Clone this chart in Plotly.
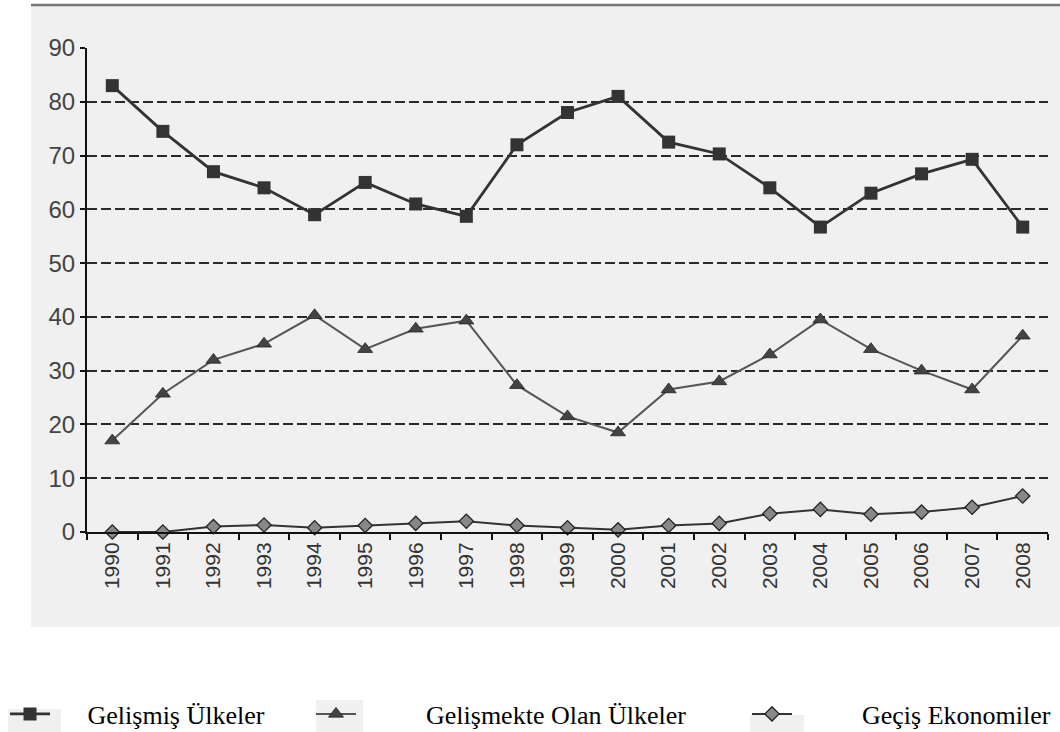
"""
Line chart: Gelişmiş / Gelişmekte Olan / Geçiş Ekonomileri, 1990-2008.
"""

import plotly.graph_objects as go

# Data
years = [str(y) for y in range(1990, 2009)]
gelismis = [83, 74.5, 67, 64, 59, 65, 61, 58.7, 72, 78, 81, 72.5, 70.3, 64, 56.7, 63, 66.6, 69.3, 56.7]
gelismekte = [17, 25.7, 32, 35, 40.3, 34, 37.8, 39.3, 27.3, 21.5, 18.5, 26.5, 28, 33, 39.5, 34, 30, 26.5, 36.5]
gecis = [0, 0, 1, 1.3, 0.8, 1.2, 1.6, 2, 1.2, 0.8, 0.4, 1.2, 1.6, 3.4, 4.2, 3.3, 3.7, 4.6, 6.7]

series_names = ['Gelişmiş Ülkeler', 'Gelişmekte Olan Ülkeler', 'Geçiş Ekonomiler']
y_ticks = list(range(0, 100, 10))

PANEL = '#f0f0f0'
DARK = '#333333'
AXIS_FONT = 'Arial, Liberation Sans, sans-serif'
LEGEND_FONT = 'Liberation Serif'


def pad(name, n):
    # non-breaking spaces push the label away from its legend key
    return '\u00a0' * n + name


fig = go.Figure()

fig.add_trace(go.Scatter(
    x=years, y=gelismis, name=pad(series_names[0], 5),
    mode='lines+markers', cliponaxis=False,
    line=dict(color=DARK, width=2.8),
    marker=dict(symbol='square', size=13, color=DARK),
    legend='legend'
))
fig.add_trace(go.Scatter(
    x=years, y=gelismekte, name=pad(series_names[1], 10),
    mode='lines+markers', cliponaxis=False,
    line=dict(color='#555555', width=2),
    marker=dict(symbol='triangle-up', size=13, color='#444444',
                line=dict(color='#222222', width=0.8)),
    legend='legend2'
))
fig.add_trace(go.Scatter(
    x=years, y=gecis, name=pad(series_names[2], 10),
    mode='lines+markers', cliponaxis=False,
    line=dict(color=DARK, width=2),
    marker=dict(symbol='diamond', size=11, color='#888888',
                line=dict(color='#222222', width=1.3)),
    legend='legend3'
))

# grey panel and top rule behind the chart
fig.add_shape(type='rect', xref='paper', yref='paper',
              x0=-0.0583, x1=1.0125, y0=-0.1963, y1=1.0888,
              fillcolor=PANEL, line_width=0, layer='below')
fig.add_shape(type='line', xref='paper', yref='paper',
              x0=-0.0583, x1=1.0125, y0=1.0888, y1=1.0888,
              line=dict(color='#777777', width=2.5), layer='below')

# small grey boxes behind the legend keys
for x0, x1, y0 in [(-0.0822, -0.0271, -0.3657), (0.2383, 0.2872, -0.3471), (0.6899, 0.7461, -0.3781)]:
    fig.add_shape(type='rect', xref='paper', yref='paper',
                  x0=x0, x1=x1, y0=-0.4133, y1=y0,
                  fillcolor=PANEL, line_width=0, layer='below')

legend_common = dict(
    orientation='h', yanchor='middle', xanchor='left', y=-0.376,
    font=dict(family=LEGEND_FONT, size=26, color='#000000'),
    bgcolor='rgba(0,0,0,0)', itemwidth=40
)

fig.update_layout(
    width=1060, height=732,
    margin=dict(l=87, r=12, t=48, b=200, autoexpand=False),
    paper_bgcolor='white',
    plot_bgcolor=PANEL,
    showlegend=True,
    legend=dict(x=-0.0853, **legend_common),
    legend2=dict(x=0.2331, **legend_common),
    legend3=dict(x=0.6868, **legend_common),
    xaxis=dict(
        type='category', tickson='boundaries',
        showline=True, linecolor='#111111', linewidth=2,
        ticks='outside', ticklen=6, tickwidth=2, tickcolor='#111111',
        tickangle=-90, showgrid=False,
        tickfont=dict(family=AXIS_FONT, size=21, color='#333333'),
        range=[-0.5, len(years) - 0.5]
    ),
    yaxis=dict(
        range=[0, 90], tickvals=y_ticks,
        showgrid=True, gridcolor='#2a2a2a', gridwidth=2, griddash='10px,4px',
        zeroline=False,
        showline=True, linecolor='#111111', linewidth=2,
        ticks='outside', ticklen=5, tickwidth=2, tickcolor='#111111',
        tickfont=dict(family=AXIS_FONT, size=24, color='#444444')
    )
)

# drop the browser's default 8px body margin so the figure fills the window
fig.write_html("out.html", config={'displayModeBar': False},
               post_script="document.body.style.margin='0';")
